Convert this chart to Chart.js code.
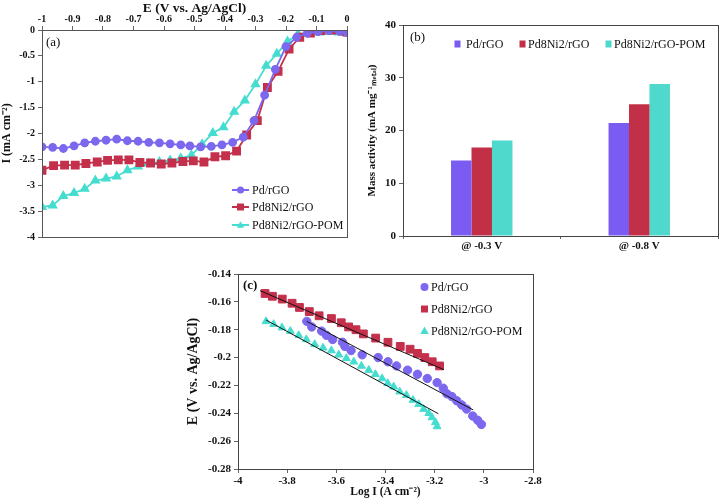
<!DOCTYPE html>
<html><head><meta charset="utf-8">
<script src="https://cdn.jsdelivr.net/npm/chart.js@4/dist/chart.umd.min.js"></script>
<style>
html,body{margin:0;padding:0;background:#fff;width:721px;height:501px;overflow:hidden}
canvas{position:absolute}
</style></head><body>
<canvas id="ca" width="360" height="245" style="left:0;top:0"></canvas>
<canvas id="cb" width="361" height="252" style="left:360px;top:0"></canvas>
<canvas id="cc" width="370" height="246" style="left:180px;top:255px"></canvas>
<script>
// ---------- DATA ----------
const seriesNames = ['Pd/rGO', 'Pd8Ni2/rGO', 'Pd8Ni2/rGO-POM'];

// (a) LSV curves: potential E (V) and current I (mA cm-2)
const aPdE  = [-1.00,-0.965,-0.93,-0.895,-0.86,-0.825,-0.79,-0.755,-0.72,-0.685,-0.65,-0.615,-0.58,-0.545,-0.515,-0.48,-0.445,-0.41,-0.375,-0.34,-0.305,-0.27,-0.235,-0.20,-0.165,-0.13,-0.095,-0.06,-0.025,0];
const aPdI  = [-2.26,-2.27,-2.29,-2.24,-2.18,-2.15,-2.13,-2.11,-2.14,-2.15,-2.17,-2.18,-2.20,-2.22,-2.24,-2.26,-2.25,-2.22,-2.17,-2.07,-1.75,-1.26,-0.76,-0.32,-0.14,-0.06,-0.03,-0.01,-0.02,-0.05];
const aNiE  = [-1.00,-0.962,-0.926,-0.891,-0.856,-0.819,-0.785,-0.750,-0.715,-0.679,-0.644,-0.609,-0.574,-0.538,-0.504,-0.469,-0.433,-0.398,-0.362,-0.329,-0.294,-0.261,-0.226,-0.19,-0.155,-0.12,-0.085,-0.05,-0.015,0];
const aNiI  = [-2.71,-2.62,-2.61,-2.61,-2.58,-2.55,-2.52,-2.51,-2.51,-2.56,-2.57,-2.59,-2.57,-2.54,-2.53,-2.55,-2.45,-2.43,-2.34,-2.03,-1.75,-1.11,-0.80,-0.37,-0.14,-0.06,-0.01,0.0,-0.02,-0.04];
const aPomE = [-1.00,-0.965,-0.93,-0.895,-0.86,-0.825,-0.79,-0.755,-0.72,-0.685,-0.65,-0.615,-0.58,-0.545,-0.51,-0.475,-0.44,-0.405,-0.37,-0.335,-0.30,-0.265,-0.23,-0.195,-0.16,-0.125,-0.09,-0.055,-0.025,0];
const aPomI = [-3.42,-3.39,-3.21,-3.15,-3.07,-2.91,-2.87,-2.83,-2.71,-2.64,-2.58,-2.55,-2.52,-2.48,-2.42,-2.21,-1.99,-1.88,-1.58,-1.36,-1.05,-0.69,-0.46,-0.22,-0.08,-0.06,-0.05,-0.04,-0.05,-0.06];

// (b) mass activity (mA mg-1 metal)
const bCategories = ['@ -0.3 V', '@ -0.8 V'];
const bPd  = [14.3, 21.4];
const bNi  = [16.8, 25.0];
const bPom = [18.1, 28.8];

// (c) Tafel plots: log I vs E
const cPdX  = [-3.72,-3.70,-3.66,-3.64,-3.615,-3.575,-3.565,-3.54,-3.495,-3.43,-3.39,-3.355,-3.31,-3.27,-3.23,-3.19,-3.165,-3.15,-3.13,-3.11,-3.09,-3.07,-3.045,-3.025,-3.01];
const cPdY  = [-0.174,-0.178,-0.181,-0.184,-0.187,-0.189,-0.192,-0.195,-0.198,-0.200,-0.203,-0.206,-0.209,-0.212,-0.215,-0.218,-0.222,-0.226,-0.228,-0.231,-0.234,-0.237,-0.242,-0.245,-0.248];
const cNiX  = [-3.89,-3.86,-3.82,-3.78,-3.75,-3.71,-3.67,-3.62,-3.58,-3.55,-3.52,-3.49,-3.44,-3.39,-3.34,-3.30,-3.27,-3.24,-3.21,-3.18];
const cNiY  = [-0.154,-0.156,-0.158,-0.161,-0.164,-0.167,-0.170,-0.172,-0.175,-0.178,-0.180,-0.183,-0.186,-0.189,-0.192,-0.194,-0.197,-0.200,-0.203,-0.206];
const cPomX = [-3.886,-3.855,-3.821,-3.787,-3.753,-3.722,-3.688,-3.654,-3.620,-3.590,-3.559,-3.529,-3.498,-3.468,-3.441,-3.414,-3.391,-3.367,-3.342,-3.315,-3.288,-3.265,-3.245,-3.224,-3.211,-3.197,-3.190];
const cPomY = [-0.174,-0.176,-0.1785,-0.181,-0.184,-0.187,-0.1905,-0.193,-0.195,-0.198,-0.2005,-0.203,-0.206,-0.209,-0.212,-0.215,-0.2185,-0.221,-0.2245,-0.227,-0.2305,-0.2335,-0.237,-0.240,-0.243,-0.2465,-0.2495];
// linear fits (end points)
const cPdFitX  = [-3.72, -3.043];  const cPdFitY  = [-0.174, -0.2376];
const cNiFitX  = [-3.91, -3.162];  const cNiFitY  = [-0.152, -0.2087];
const cPomFitX = [-3.886, -3.185]; const cPomFitY = [-0.173, -0.2403];

// ---------- STYLE ----------
const COL = {pd:'#7B68EE', ni:'#C4304C', pom:'#44DDD0'};
const BAR = {pd:'#7A5CF2', ni:'#C23048', pom:'#4FD9CD'};
const SERIF = "'Liberation Serif','Times New Roman',serif";
Chart.defaults.font.family = SERIF;
Chart.defaults.color = '#111';
Chart.defaults.animation = false;

const pts = (xs, ys) => xs.map((x, i) => ({x, y: ys[i]}));
const fmt = v => String(parseFloat(Number(v).toFixed(3)));

function drawMarker(ctx, style, x, y, s, color) {
  ctx.save(); ctx.fillStyle = color; ctx.strokeStyle = color; ctx.beginPath();
  if (style === 'circle') { ctx.arc(x, y, s, 0, Math.PI * 2); }
  else if (style === 'rect') { ctx.rect(x - s, y - s, 2 * s, 2 * s); }
  else if (style === 'triangle') { ctx.moveTo(x, y - s * 1.1); ctx.lineTo(x + s * 1.05, y + s * 0.75); ctx.lineTo(x - s * 1.05, y + s * 0.75); ctx.closePath(); }
  ctx.fill(); ctx.restore();
}

const deco = {
  id: 'deco',
  afterDraw(chart, args, o) {
    const ctx = chart.ctx, a = chart.chartArea;
    ctx.save();
    ctx.strokeStyle = o.frameColor || '#555'; ctx.lineWidth = 1;
    ctx.strokeRect(Math.round(a.left) + 0.5, Math.round(a.top) + 0.5, Math.round(a.right - a.left), Math.round(a.bottom - a.top));
    ctx.fillStyle = '#111'; ctx.textBaseline = 'middle'; ctx.textAlign = 'left';
    ctx.font = (o.labelWeight || 'normal') + ' 13px ' + SERIF;
    ctx.fillText(o.label, o.lx, o.ly);
    ctx.font = 'normal 12px ' + SERIF;
    const L = o.legend;
    chart.data.datasets.forEach((ds, i) => {
      if (!ds.label) return;
      const it = L.items[i];
      const col = ds.borderColor || ds.backgroundColor;
      if (L.mode === 'line') {
        ctx.strokeStyle = col; ctx.lineWidth = 2; ctx.beginPath();
        ctx.moveTo(it.x, it.y); ctx.lineTo(it.x + 17, it.y); ctx.stroke();
        drawMarker(ctx, ds.pointStyle, it.x + 8.5, it.y, 3.5, col);
        ctx.fillStyle = '#111'; ctx.fillText(ds.label, it.x + 20, it.y + 1);
      } else if (L.mode === 'box') {
        ctx.fillStyle = ds.backgroundColor; ctx.fillRect(it.x - 3, it.y - 3.5, 6, 7);
        ctx.fillStyle = '#111'; ctx.fillText(ds.label, it.tx, it.y + 1);
      } else {
        drawMarker(ctx, ds.pointStyle, it.x, it.y, ds.pointStyle === 'rect' ? 3.5 : 4, ds.backgroundColor);
        ctx.fillStyle = '#111'; ctx.fillText(ds.label, it.tx, it.y + 1);
      }
    });
    ctx.restore();
  }
};

const tickFont = s => ({size: s, weight: 'bold', family: SERIF});
const titleFont = s => ({size: s, weight: 'bold', family: SERIF});
const gridTicks = {display: true, drawOnChartArea: false, drawTicks: true, tickLength: 4, color: '#666'};
const fixW = w => s => { s.width = w; s.paddingTop = 0; s.paddingBottom = 0; };
const fixH = h => s => { s.height = h; s.paddingLeft = 0; s.paddingRight = 0; };

// ---------- (a) ----------
new Chart(document.getElementById('ca'), {
  type: 'line',
  data: { datasets: [
    {label: seriesNames[0], data: pts(aPdE, aPdI), borderColor: COL.pd, backgroundColor: COL.pd, pointStyle: 'circle', pointRadius: 3.5, borderWidth: 1.8},
    {label: seriesNames[1], data: pts(aNiE, aNiI), borderColor: COL.ni, backgroundColor: COL.ni, pointStyle: 'rect', pointRadius: 5, borderWidth: 1.8},
    {label: seriesNames[2], data: pts(aPomE, aPomI), borderColor: COL.pom, backgroundColor: COL.pom, pointStyle: 'triangle', pointRadius: 4.2, borderWidth: 1.8}
  ]},
  plugins: [deco],
  options: {
    responsive: false, devicePixelRatio: 1,
    layout: {padding: {left: 0, top: 0, right: 13, bottom: 8}},
    plugins: {legend: {display: false}, tooltip: {enabled: false},
      deco: {label: '(a)', lx: 46, ly: 43, frameColor: '#555',
        legend: {mode: 'line', items: [{x: 232, y: 190}, {x: 232, y: 207}, {x: 232, y: 225}]}}},
    scales: {
      x: {type: 'linear', position: 'top', min: -1, max: 0,
        ticks: {stepSize: 0.1, callback: fmt, font: tickFont(10), color: '#111', padding: 1, maxRotation: 0, autoSkip: false},
        grid: gridTicks, border: {display: true, color: '#333'},
        title: {display: true, text: 'E (V vs. Ag/AgCl)', font: titleFont(13.5), padding: {top: 0, bottom: 0}, color: '#111'},
        afterFit: fixH(30)},
      y: {type: 'linear', min: -4, max: 0,
        ticks: {stepSize: 0.5, callback: fmt, font: tickFont(10), color: '#111', padding: 3},
        grid: gridTicks, border: {display: true, color: '#333'},
        title: {display: true, text: 'I (mA cm⁻²)', font: titleFont(12), padding: {top: 0, bottom: 2}, color: '#111'},
        afterFit: fixW(42)}
    }
  }
});

// ---------- (b) ----------
new Chart(document.getElementById('cb'), {
  type: 'bar',
  data: { labels: bCategories, datasets: [
    {label: seriesNames[0], data: bPd, backgroundColor: BAR.pd},
    {label: seriesNames[1], data: bNi, backgroundColor: BAR.ni},
    {label: seriesNames[2], data: bPom, backgroundColor: BAR.pom}
  ]},
  plugins: [deco],
  options: {
    responsive: false, devicePixelRatio: 1,
    categoryPercentage: 0.39, barPercentage: 1.0,
    layout: {padding: {left: 0, top: 25, right: 3, bottom: 0}},
    plugins: {legend: {display: false}, tooltip: {enabled: false},
      deco: {label: '(b)', lx: 50, ly: 38, frameColor: '#444',
        legend: {mode: 'box', items: [{x: 97.5, y: 44, tx: 106}, {x: 162.5, y: 44, tx: 168}, {x: 248.5, y: 44, tx: 254}]}}},
    scales: {
      x: {ticks: {font: tickFont(11), color: '#111', padding: 1, maxRotation: 0},
        grid: {display: true, drawOnChartArea: false, drawTicks: true, tickLength: 3, color: '#666'},
        border: {display: true, color: '#333'},
        afterFit: fixH(16)},
      y: {min: 0, max: 40,
        ticks: {stepSize: 10, font: tickFont(11), color: '#111', padding: 3},
        grid: gridTicks, border: {display: true, color: '#333'},
        title: {display: true, text: 'Mass activity (mA mg⁻¹ₘₑₜₐₗ)', font: titleFont(11), padding: {top: 6, bottom: 0}, color: '#111'},
        afterFit: fixW(43)}
    }
  }
});

// ---------- (c) ----------
new Chart(document.getElementById('cc'), {
  type: 'scatter',
  data: { datasets: [
    {data: pts(cPdFitX, cPdFitY), showLine: true, borderColor: '#111', borderWidth: 1, pointRadius: 0},
    {data: pts(cNiFitX, cNiFitY), showLine: true, borderColor: '#111', borderWidth: 1, pointRadius: 0},
    {data: pts(cPomFitX, cPomFitY), showLine: true, borderColor: '#111', borderWidth: 1, pointRadius: 0},
    {label: seriesNames[0], data: pts(cPdX, cPdY), backgroundColor: COL.pd, borderColor: COL.pd, pointStyle: 'circle', pointRadius: 4.2},
    {label: seriesNames[1], data: pts(cNiX, cNiY), backgroundColor: COL.ni, borderColor: COL.ni, pointStyle: 'rect', pointRadius: 5.5},
    {label: seriesNames[2], data: pts(cPomX, cPomY), backgroundColor: COL.pom, borderColor: COL.pom, pointStyle: 'triangle', pointRadius: 4.5}
  ]},
  plugins: [deco],
  options: {
    responsive: false, devicePixelRatio: 1,
    layout: {padding: {left: 0, top: 19, right: 17, bottom: 0}},
    plugins: {legend: {display: false}, tooltip: {enabled: false},
      deco: {label: '(c)', labelWeight: 'bold', lx: 63, ly: 31, frameColor: '#444',
        legend: {mode: 'marker', items: [null, null, null, {x: 244.5, y: 32, tx: 251}, {x: 244.5, y: 54, tx: 251}, {x: 244.5, y: 76, tx: 251}]}}},
    scales: {
      x: {type: 'linear', min: -4, max: -2.8,
        ticks: {stepSize: 0.2, callback: fmt, font: tickFont(11), color: '#111', padding: 2, maxRotation: 0, autoSkip: false},
        grid: gridTicks, border: {display: true, color: '#333'},
        title: {display: true, text: 'Log I (A cm⁻²)', font: titleFont(11.5), padding: {top: 0, bottom: 2}, color: '#111'},
        afterFit: fixH(32)},
      y: {type: 'linear', min: -0.28, max: -0.14,
        ticks: {stepSize: 0.02, callback: fmt, font: tickFont(11), color: '#111', padding: 3},
        grid: gridTicks, border: {display: true, color: '#333'},
        title: {display: true, text: 'E (V vs. Ag/AgCl)', font: titleFont(14), padding: {top: 5, bottom: 0}, color: '#111'},
        afterFit: fixW(58)}
    }
  }
});
</script>
</body></html>
